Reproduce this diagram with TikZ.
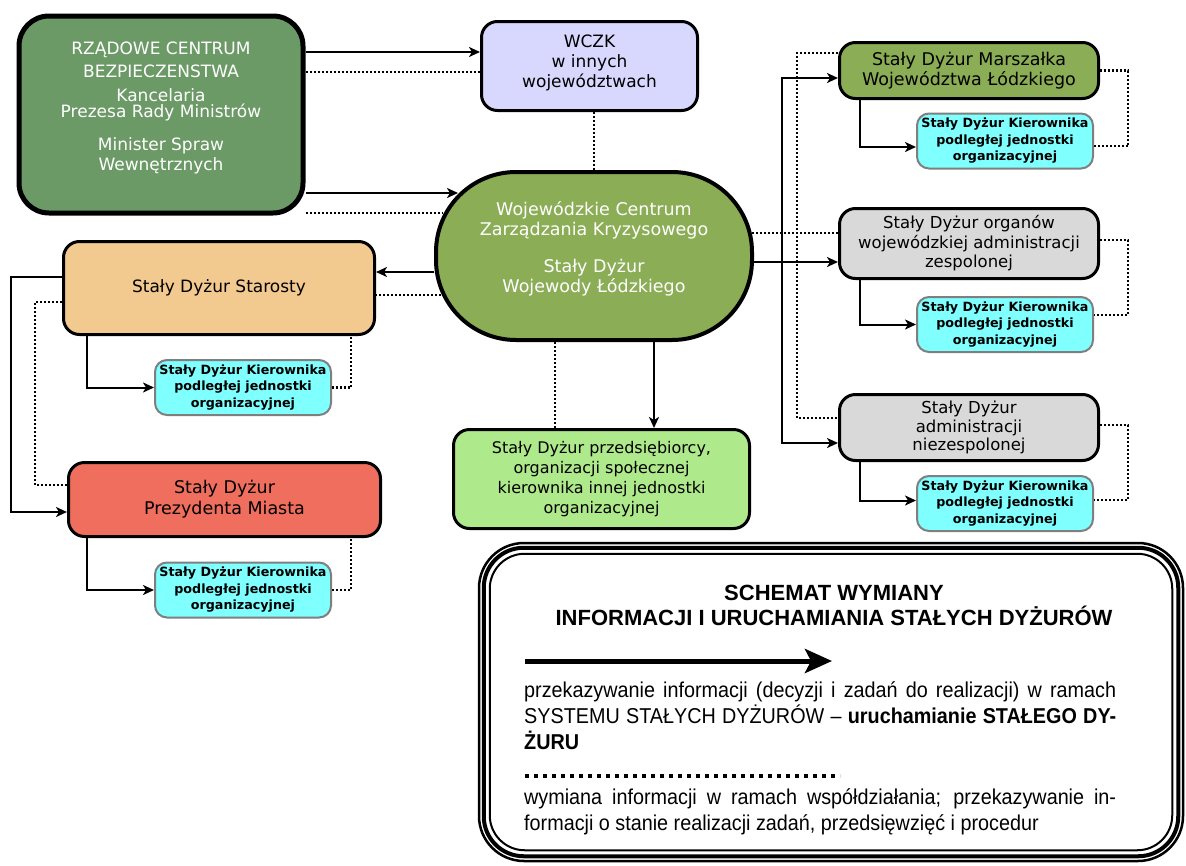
\documentclass[tikz,border=0pt]{standalone}
\usepackage{fontspec}
\setmainfont{DejaVu Sans}
\newfontfamily\legendfont[FakeStretch=0.92]{Liberation Sans}
\newfontfamily\legendtitlefont{Liberation Sans}
\usepackage{tikz}
\usepackage{xcolor}
\usetikzlibrary{arrows.meta}
\definecolor{rcbgreen}{HTML}{6B9A66}
\definecolor{wcgreen}{HTML}{8BAD55}
\definecolor{wczkblue}{HTML}{D8D8FE}
\definecolor{starostaorange}{HTML}{F2C98F}
\definecolor{prezydentred}{HTML}{F06E5D}
\definecolor{firmagreen}{HTML}{AEE98B}
\definecolor{subcyan}{HTML}{80FFFF}
\definecolor{subgrey}{HTML}{7F7F7F}
\definecolor{boxgrey}{HTML}{D9D9D9}

\begin{document}
\begin{tikzpicture}[x=1pt, y=-1pt,
    >={Stealth[length=11pt,width=10pt,inset=3pt]},
    box/.style={draw, line width=3pt, rounded corners=16pt, align=center, inner sep=0pt},
    subbox/.style={draw=subgrey, line width=2pt, fill=subcyan, rounded corners=12pt,
        minimum width=176pt, minimum height=55pt, align=center, inner sep=0pt,
        font=\fontsize{12.7}{16.5}\selectfont\bfseries},
    arr/.style={line width=2pt, ->},
    dots/.style={line width=2.5pt, dash pattern=on 2pt off 2pt},
    legarr/.style={line width=5pt, -{Stealth[length=27pt,width=24pt,inset=6pt]}},
    legdots/.style={line width=4pt, dash pattern=on 4pt off 5pt}]
    \useasboundingbox (0,0) rectangle (1186,865);

    % Flowchart boxes
    \node[box, line width=5pt, rounded corners=30pt, fill=rcbgreen, text=white, minimum width=284pt, minimum height=197pt, text depth=16pt, font=\fontsize{17}{20}\selectfont] (rcb) at (161,114.5) {RZĄDOWE CENTRUM\\[3pt] BEZPIECZENSTWA\\[4pt] Kancelaria\\[-4pt] Prezesa Rady Ministrów\\[13pt] Minister Spraw\\ Wewnętrznych};
    \node[box, fill=wczkblue, minimum width=216pt, minimum height=89pt, text depth=10pt, font=\fontsize{17}{20}\selectfont] (wczk) at (589.5,66) {WCZK\\ w innych\\ województwach};
    \node[box, line width=4pt, rounded corners=80pt, fill=wcgreen, text=white, minimum width=316pt, minimum height=168pt, text depth=18pt, font=\fontsize{17.5}{20.5}\selectfont] (wojcentr) at (594,256) {Wojewódzkie Centrum\\ Zarządzania Kryzysowego\\[16pt] Stały Dyżur\\ Wojewody Łódzkiego};
    \node[box, fill=starostaorange, minimum width=311pt, minimum height=93pt, font=\fontsize{17}{20}\selectfont] (starosty) at (219,288) {Stały Dyżur Starosty};
    \node[subbox] (starostysub) at (243,387.5) {Stały Dyżur Kierownika\\ podległej jednostki\\ organizacyjnej};
    \node[box, fill=prezydentred, minimum width=312pt, minimum height=74pt, font=\fontsize{17.5}{21}\selectfont] (prezydent) at (224.5,499.5) {Stały Dyżur\\ Prezydenta Miasta};
    \node[subbox] (prezydentsub) at (243,590) {Stały Dyżur Kierownika\\ podległej jednostki\\ organizacyjnej};
    \node[box, fill=firmagreen, minimum width=296pt, minimum height=99pt, font=\fontsize{16}{20}\selectfont] (firma) at (601.5,479) {Stały Dyżur przedsiębiorcy,\\ organizacji społecznej\\ kierownika innej jednostki\\ organizacyjnej};
    \node[box, fill=wcgreen, minimum width=259pt, minimum height=56pt, font=\fontsize{17.5}{20}\selectfont] (marszalek) at (969,70.5) {Stały Dyżur Marszałka\\ Województwa Łódzkiego};
    \node[subbox] (marszaleksub) at (1005,141) {Stały Dyżur Kierownika\\ podległej jednostki\\ organizacyjnej};
    \node[box, fill=boxgrey, minimum width=259pt, minimum height=70pt, font=\fontsize{16.5}{19.5}\selectfont] (zespol) at (969,243.5) {Stały Dyżur organów\\ wojewódzkiej administracji\\ zespolonej};
    \node[subbox] (zespolsub) at (1005,324.5) {Stały Dyżur Kierownika\\ podległej jednostki\\ organizacyjnej};
    \node[box, fill=boxgrey, minimum width=259pt, minimum height=66pt, font=\fontsize{16.5}{18.5}\selectfont] (niezespol) at (969,427.5) {Stały Dyżur\\ administracji\\ niezespolonej};
    \node[subbox] (niezespolsub) at (1005,503.5) {Stały Dyżur Kierownika\\ podległej jednostki\\ organizacyjnej};

    % Arrows
    \coordinate (wczkin) at ([shift={(0,-14)}]wczk.west);
    \coordinate (wczkdot) at ([shift={(0,6)}]wczk.west);
    \coordinate (wcin) at ([shift={(-136,-63)}]wojcentr.center);
    \coordinate (wcdot) at ([shift={(-151,-43)}]wojcentr.center);
    \draw[arr] (rcb.east |- wczkin) -- (wczkin);
    \draw[dots] (rcb.east |- wczkdot) -- (wczkdot);
    \draw[arr] (rcb.east |- wcin) -- (wcin);
    \draw[dots] (rcb.east |- wcdot) -- (wcdot);
    \draw[dots] (wczk.south -| wojcentr.north) -- (wojcentr.north);

    \coordinate (starin) at ([shift={(0,-16)}]starosty.east);
    \coordinate (stardot) at ([shift={(0,7)}]starosty.east);
    \coordinate (wcstardot) at ([shift={(-153,39)}]wojcentr.center);
    \draw[arr] (wojcentr.west |- starin) -- (starin);
    \draw[dots] (wcstardot) -- (stardot);
    \draw[arr] ([xshift=-132pt]starosty.south) |- (starostysub.west);
    \draw[dots] (starostysub.east) -| ([xshift=132pt]starosty.south);
    \draw[arr] ([yshift=11pt]starosty.west) -- ++(-51,0) |- ([yshift=-12.5pt]prezydent.west);
    \draw[dots] ([yshift=-14pt]starosty.west) -- ++(-27,0) |- ([yshift=14.5pt]prezydent.west);
    \draw[arr] ([xshift=-137.5pt]prezydent.south) |- (prezydentsub.west);
    \draw[dots] (prezydentsub.east) -| ([xshift=126.5pt]prezydent.south);

    \coordinate (firmain) at ([shift={(52.5,0)}]firma.north);
    \coordinate (firmadot) at ([shift={(-46.5,0)}]firma.north);
    \draw[arr] (wojcentr.south -| firmain) -- (firmain);
    \draw[dots] (wojcentr.south -| firmadot) -- (firmadot);

    \coordinate (marin) at ([shift={(0,7.5)}]marszalek.west);
    \coordinate (zesin) at ([shift={(0,18.5)}]zespol.west);
    \coordinate (niein) at ([shift={(0,15.5)}]niezespol.west);
    \coordinate (mardot) at ([shift={(0,-17.5)}]marszalek.west);
    \coordinate (zesdot) at ([shift={(0,-10.5)}]zespol.west);
    \coordinate (niedot) at ([shift={(0,-9.5)}]niezespol.west);
    \coordinate (wczesdot) at ([shift={(158,-23)}]wojcentr.center);
    \draw[arr] (wojcentr.east |- zesin) -- (zesin);
    \draw[line width=2pt, <->] (marin) -- ++(-56,0) |- (niein);
    \draw[dots] (wczesdot) -- (zesdot);
    \draw[dots] (mardot) -- ++(-41,0) |- (niedot);

    \draw[arr] ([xshift=-109pt]marszalek.south) |- ([yshift=-6pt]marszaleksub.west);
    \draw[dots] (marszalek.east) -- ++(28,0) |- ([yshift=-5pt]marszaleksub.east);
    \draw[arr] ([xshift=-109pt]zespol.south) |- (zespolsub.west);
    \draw[dots] ([yshift=3.5pt]zespol.east) -- ++(28,0) |- ([yshift=9.5pt]zespolsub.east);
    \draw[arr] ([xshift=-109pt]niezespol.south) |- ([yshift=3pt]niezespolsub.west);
    \draw[dots] ([yshift=2.5pt]niezespol.east) -- ++(28,0) |- ([yshift=3.5pt]niezespolsub.east);

    % Legend
    \node[draw, line width=2.5pt, rounded corners=45pt, minimum width=704pt, minimum height=318pt, inner sep=0pt] (legend) at (831,702) {};
    \draw[line width=4pt, rounded corners=40pt] ([shift={(6,6)}]legend.north west) rectangle ([shift={(-6,-6)}]legend.south east);
    \draw[line width=2pt, rounded corners=35pt] ([shift={(12,12)}]legend.north west) rectangle ([shift={(-12,-12)}]legend.south east);
    \node[align=center, inner sep=0pt, font=\legendtitlefont\fontsize{22}{25}\selectfont\bfseries] (legtitle) at (834,605) {SCHEMAT WYMIANY\\ INFORMACJI I URUCHAMIANIA STAŁYCH DYŻURÓW};
    \coordinate (arrowstart) at (525,661);
    \coordinate (arrowend) at (832,661);
    \draw[legarr] (arrowstart) -- (arrowend);
    \node[anchor=north west, inner sep=0pt, text width=592pt, align=justify, font=\legendfont\fontsize{21.5}{26}\selectfont] (legsolid) at (524,681) {\noindent przekazywanie informacji (decyzji i zadań do realizacji) w ramach\linebreak SYSTEMU STAŁYCH DYŻURÓW – \textbf{uruchamianie STAŁEGO DY-\linebreak ŻURU}};
    \coordinate (dotstart) at (525,776);
    \coordinate (dotend) at (840,776);
    \draw[legdots] (dotstart) -- (dotend);
    \node[anchor=north west, inner sep=0pt, text width=592pt, align=justify, font=\legendfont\fontsize{21.5}{26}\selectfont] (legdotted) at (524,788) {\noindent wymiana informacji w ramach współdziałania; przekazywanie in-\linebreak formacji o stanie realizacji zadań, przedsięwzięć i procedur};
\end{tikzpicture}
\end{document}
